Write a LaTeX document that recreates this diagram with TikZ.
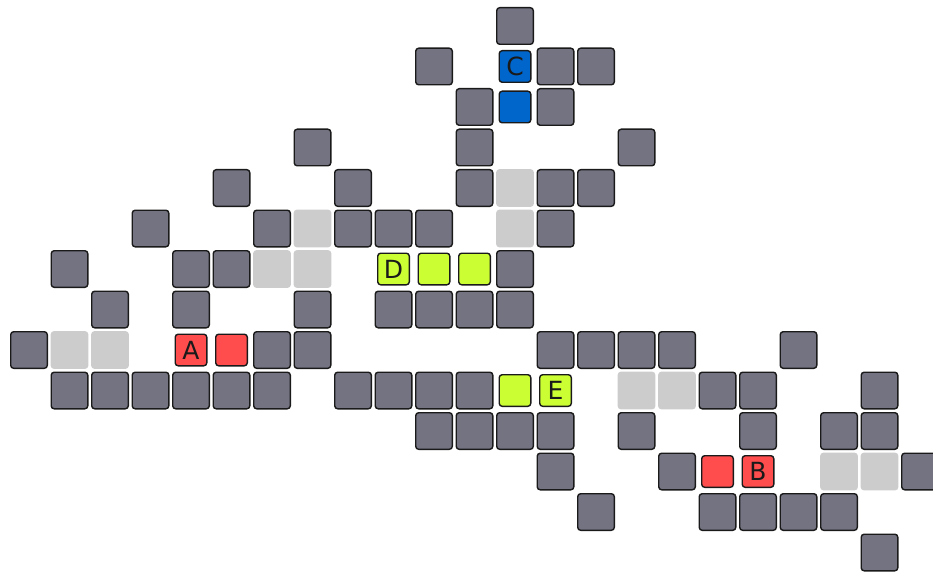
\documentclass[tikz,border=0pt]{standalone}
\usepackage{fontspec}
\setmainfont{DejaVu Sans}
\definecolor{darkfill}{RGB}{115,115,130}
\definecolor{lightfill}{RGB}{204,204,204}
\definecolor{redfill}{RGB}{255,76,76}
\definecolor{greenfill}{RGB}{204,255,51}
\definecolor{bluefill}{RGB}{0,102,204}
\definecolor{edge}{RGB}{26,26,26}
\tikzset{
  cell/.style={minimum size=38pt,inner sep=0pt,outer sep=0pt,rounded corners=3pt},
  darkcell/.style={cell,draw=edge,line width=1.4pt,fill=darkfill,minimum size=36.6pt},
  lightcell/.style={cell,fill=lightfill,minimum size=37.6pt,draw=none},
  colcell/.style={cell,draw=edge,line width=1.4pt,minimum size=31.6pt,font=\fontsize{25}{25}\selectfont,text=edge},
  redcell/.style={colcell,fill=redfill},
  greencell/.style={colcell,fill=greenfill},
  bluecell/.style={colcell,fill=bluefill},
}
\begin{document}
\begin{tikzpicture}[x=1pt,y=-1pt]
\useasboundingbox (0,0) rectangle (933,572);
\foreach \c/\r in {12/0, 10/1,13/1,14/1, 11/2,13/2, 7/3,11/3,15/3,
  5/4,8/4,11/4,13/4,14/4, 3/5,6/5,8/5,9/5,10/5,13/5,
  1/6,4/6,5/6,12/6, 2/7,4/7,7/7,9/7,10/7,11/7,12/7,
  0/8,6/8,7/8,13/8,14/8,15/8,16/8,19/8,
  1/9,2/9,3/9,4/9,5/9,6/9,8/9,9/9,10/9,11/9,17/9,18/9,21/9,
  10/10,11/10,12/10,13/10,15/10,18/10,20/10,21/10,
  13/11,16/11,22/11, 14/12,17/12,18/12,19/12,20/12, 21/13}
  \node[darkcell] (d-\c-\r) at ({29+40.5*\c},{26+40.5*\r}) {};
\foreach \c/\r in {12/4, 7/5,12/5, 6/6,7/6, 1/8,2/8, 15/9,16/9, 20/11,21/11}
  \node[lightcell] (l-\c-\r) at ({29+40.5*\c},{26+40.5*\r}) {};
\node[bluecell] (C) at ({29+40.5*12},{26+40.5*1}) {C};
\node[bluecell] (c2) at ({29+40.5*12},{26+40.5*2}) {};
\node[greencell] (D) at ({29+40.5*9},{26+40.5*6}) {D};
\node[greencell] (d2) at ({29+40.5*10},{26+40.5*6}) {};
\node[greencell] (d3) at ({29+40.5*11},{26+40.5*6}) {};
\node[redcell] (A) at ({29+40.5*4},{26+40.5*8}) {A};
\node[redcell] (a2) at ({29+40.5*5},{26+40.5*8}) {};
\node[greencell] (e2) at ({29+40.5*12},{26+40.5*9}) {};
\node[greencell] (E) at ({29+40.5*13},{26+40.5*9}) {E};
\node[redcell] (b2) at ({29+40.5*17},{26+40.5*11}) {};
\node[redcell] (B) at ({29+40.5*18},{26+40.5*11}) {B};
\end{tikzpicture}
\end{document}
